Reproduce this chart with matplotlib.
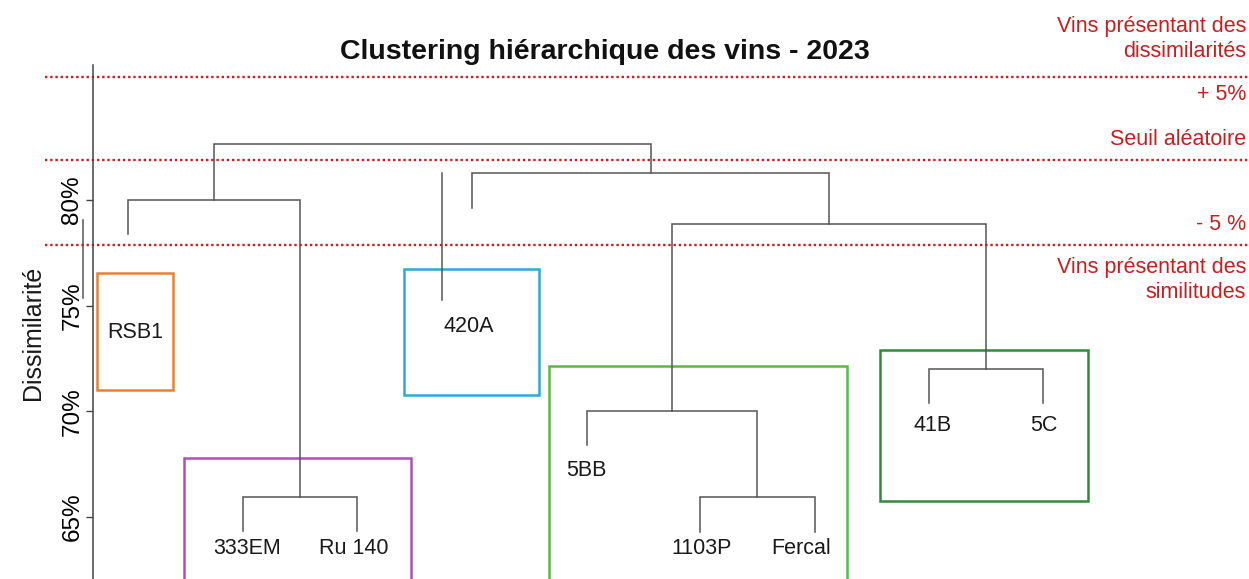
import matplotlib
matplotlib.use("Agg")
import matplotlib.pyplot as plt
from matplotlib.patches import Rectangle

plt.rcParams["font.family"] = ["Liberation Sans", "DejaVu Sans"]

# --- data -------------------------------------------------------------
leaf_names = ["RSB1", "333EM", "Ru 140", "420A", "5BB", "1103P", "Fercal", "41B", "5C"]
leaf_pos = [128, 243, 357, 472, 587, 700, 815, 929, 1043]
# height (%) where each leaf stem stops
leaf_end = [78.41, 64.34, 64.34, 79.62, 68.41, 64.29, 64.29, 70.39, 70.39]

# merges: (left child, right child, height %) ; children < 0 are leaves (-(i+1))
merges = [
    (-2, -3, 65.94),   # 0: 333EM + Ru 140
    (-1, 0, 80.02),    # 1: RSB1 + node0
    (-6, -7, 65.94),   # 2: 1103P + Fercal
    (-5, 2, 70.01),    # 3: 5BB + node2
    (-8, -9, 72.00),   # 4: 41B + 5C
    (3, 4, 78.86),     # 5
    (-4, 5, 81.28),    # 6
    (1, 6, 82.63),     # 7: root
]

# label placement
label_x = [135, 247, 354, 469, 586, 702, 801, 933, 1044]
label_y = [73.71, 63.53, 63.53, 73.99, 67.22, 63.53, 63.53, 69.35, 69.35]

# extra stems in the original figure
stray_x = [442, 83]
stray_y0 = [81.28, 79.05]
stray_y1 = [75.27, 75.36]

# thresholds
seuil_vals = [85.82, 81.89, 77.87]

# group boxes: x0, x1, y_bottom, y_top, colour
box_x0 = [97, 184, 404, 549, 880]
box_x1 = [173, 411, 539, 847, 1088]
box_y0 = [71.01, 60.0, 70.77, 60.0, 65.76]
box_y1 = [76.55, 67.79, 76.73, 72.14, 72.90]
box_colors = ["#ED7D31", "#B04FBB", "#2EA7DA", "#5CB745", "#2F8A3C"]

yticks = [65, 70, 75, 80]
tick_labels = ["65%", "70%", "75%", "80%"]

red = "#C81E1E"
line_col = "#555555"

fig = plt.figure(figsize=(12.49, 5.79), dpi=100)
ax = fig.add_axes([0, 0, 1, 1])
ax.set_xlim(0, 1249)
ax.set_ylim(62.063, 89.465)

# dendrogram
node_x = {}
node_h = {}


def pos(c):
    if c < 0:
        return leaf_pos[-c - 1], leaf_end[-c - 1]
    return node_x[c], node_h[c]


for i, (a, b, h) in enumerate(merges):
    xa, ha = pos(a)
    xb, hb = pos(b)
    ax.plot([xa, xa, xb, xb], [ha, h, h, hb], color=line_col, lw=1.1,
            solid_joinstyle="miter")
    node_x[i] = (xa + xb) / 2
    node_h[i] = h

for x, y0, y1 in zip(stray_x, stray_y0, stray_y1):
    ax.plot([x, x], [y0, y1], color=line_col, lw=1.1)

for name, x, y in zip(leaf_names, label_x, label_y):
    ax.text(x, y, name, ha="center", va="center", fontsize=15.5, color="#1a1a1a")

for x0, x1, y0, y1, c in zip(box_x0, box_x1, box_y0, box_y1, box_colors):
    ax.add_patch(Rectangle((x0, y0), x1 - x0, y1 - y0, fill=False,
                           edgecolor=c, lw=1.8))

ax.hlines(seuil_vals, 45, 1249, colors=red, linestyles=(0, (1, 1.2)), lw=1.7)

# axis
for s in ["top", "right", "bottom"]:
    ax.spines[s].set_visible(False)
ax.spines["left"].set_position(("data", 93))
ax.spines["left"].set_bounds(62.063, 86.39)
ax.spines["left"].set_color("#444444")
ax.spines["left"].set_linewidth(1.1)
ax.set_xticks([])
ax.set_yticks(yticks)
ax.set_yticklabels(tick_labels, rotation=90, va="center", fontsize=17.5)
ax.tick_params(axis="y", length=5, width=1, color="#444444", pad=2)

ax.text(33, 73.71, "Dissimilarité", rotation=90, ha="center", va="center",
        fontsize=18, color="#1a1a1a")
ax.text(605, 87.0, "Clustering hiérarchique des vins - 2023", ha="center",
        va="center", fontsize=20.5, fontweight="bold", color="#111111")

# right-hand annotations
ax.text(1246, 87.6, "Vins présentant des\ndissimilarités", ha="right", va="center",
        fontsize=15.5, color=red, linespacing=1.25)
ax.text(1246, 84.97, "+ 5%", ha="right", va="center", fontsize=15.5, color=red)
ax.text(1246, 82.84, "Seuil aléatoire", ha="right", va="center", fontsize=15.5, color=red)
ax.text(1246, 78.82, "- 5 %", ha="right", va="center", fontsize=15.5, color=red)
ax.text(1246, 76.21, "Vins présentant des\nsimilitudes", ha="right", va="center",
        fontsize=15.5, color=red, linespacing=1.25)

fig.savefig("out.png", dpi=100)
